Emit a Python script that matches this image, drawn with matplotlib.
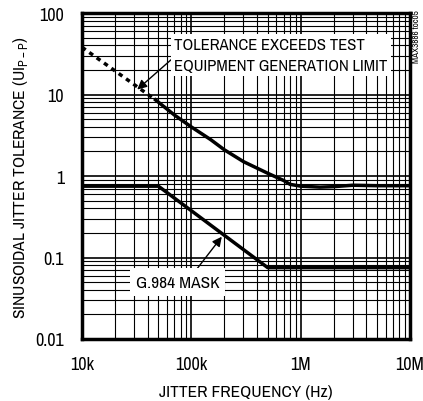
import numpy as np
import matplotlib
matplotlib.use('Agg')
from matplotlib import pyplot as plt
from matplotlib.ticker import FixedLocator, LogLocator, NullFormatter

plt.rcParams['font.family'] = ['Archivo Narrow', 'DejaVu Sans']
plt.rcParams['mathtext.fontset'] = 'custom'
plt.rcParams['mathtext.rm'] = 'Archivo Narrow'

# 測得的抖動容忍度 (虛線部分：超過測試設備極限)
dash_freq = [10e3, 47e3]
dash_tol = [38, 8.6]
meas_freq = [47e3, 70e3, 100e3, 150e3, 200e3, 300e3, 500e3, 700e3, 800e3, 1e6, 1.5e6, 2e6, 3e6, 5e6, 10e6]
meas_tol = [8.6, 5.6, 4.0, 2.8, 2.1, 1.5, 1.08, 0.88, 0.79, 0.75, 0.73, 0.74, 0.77, 0.76, 0.76]
# G.984 mask
mask_freq = [10e3, 50e3, 500e3, 10e6]
mask_tol = [0.75, 0.75, 0.075, 0.075]

x_ticks = [1e4, 1e5, 1e6, 1e7]
x_labels = ['10k', '100k', '1M', '10M']
y_ticks = [0.01, 0.1, 1, 10, 100]
y_labels = ['0.01', '0.1', '1', '10', '100']

fig = plt.figure(figsize=(4.23, 4.02), dpi=100)
ax = fig.add_axes([82/423, 1-340/402, 328/423, 326/402])

ax.plot(dash_freq, dash_tol, color='black', linewidth=2.5, linestyle=(0, (1.3, 1.3)))
ax.plot(meas_freq, meas_tol, color='black', linewidth=2.5)
ax.plot(mask_freq, mask_tol, color='black', linewidth=2.5)

ax.set_xscale('log')
ax.set_yscale('log')
ax.set_xlim(1e4, 1e7)
ax.set_ylim(0.01, 100)
ax.xaxis.set_major_locator(FixedLocator(x_ticks))
ax.set_xticklabels(x_labels)
ax.yaxis.set_major_locator(FixedLocator(y_ticks))
ax.set_yticklabels(y_labels)
ax.xaxis.set_minor_locator(LogLocator(base=10, subs=np.arange(2, 10)))
ax.yaxis.set_minor_locator(LogLocator(base=10, subs=np.arange(2, 10)))
ax.xaxis.set_minor_formatter(NullFormatter())
ax.yaxis.set_minor_formatter(NullFormatter())
ax.tick_params(which='both', length=0, labelsize=13)
ax.tick_params(axis='x', pad=12)
ax.tick_params(axis='y', pad=13)
ax.grid(True, which='major', color='black', linewidth=1.2)
ax.grid(True, which='minor', color='black', linewidth=0.8)
for s in ax.spines.values():
    s.set_linewidth(2.5)

ax.set_xlabel('JITTER FREQUENCY (Hz)', size=12.5, labelpad=9)
ax.set_ylabel('SINUSOIDAL JITTER TOLERANCE (UI$_{\\mathregular{P-P}}$)', size=12.5, labelpad=4)

# 註解文字
ax.annotate('TOLERANCE EXCEEDS TEST\nEQUIPMENT GENERATION LIMIT',
            xy=(3.2e4, 11.5), xytext=(7.0e4, 30.5), size=12, ha='left', va='center',
            linespacing=1.5,
            bbox=dict(boxstyle='square,pad=0.2', fc='white', ec='none'),
            arrowprops=dict(arrowstyle='-|>', color='black', lw=1, mutation_scale=14,
                            shrinkA=0, shrinkB=0, relpos=(0, 0.45)))
ax.annotate('G.984 MASK',
            xy=(1.9e5, 0.18), xytext=(3.1e4, 0.05), size=12.5, ha='left', va='center',
            bbox=dict(boxstyle='square,pad=0.35', fc='white', ec='none'),
            arrowprops=dict(arrowstyle='-|>', color='black', lw=1, mutation_scale=14,
                            shrinkA=0, shrinkB=0, relpos=(0.68, 1)))

fig.text(416/423, 1-10/402, 'MAX3886 toc05', rotation=90, size=6.5, ha='center', va='top')

plt.savefig('out.png', dpi=100)
